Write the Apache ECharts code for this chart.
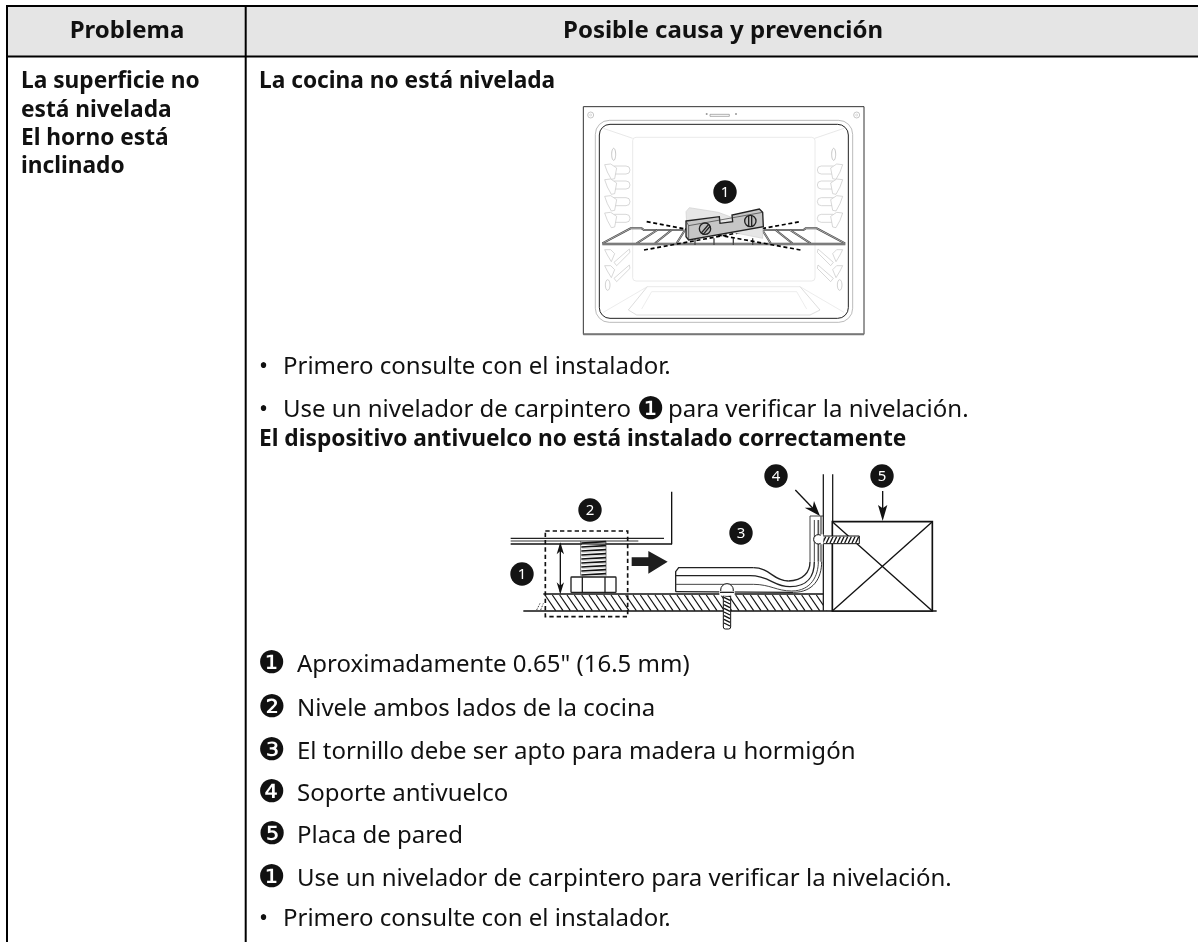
<!DOCTYPE html>
<html>
<head>
<meta charset="utf-8">
<style>html,body{margin:0;padding:0;background:#fff}#main{width:1198px;height:942px}</style>
<script src="https://cdn.jsdelivr.net/npm/echarts@6/dist/echarts.min.js"></script>
</head>
<body>
<div id="main"></div>
<script>
// textos de la tabla
const headers = ['Problema', 'Posible causa y prevención']
const problemLines = ['La superficie no', 'está nivelada', 'El horno está', 'inclinado']
const sectionTitles = ['La cocina no está nivelada', 'El dispositivo antivuelco no está instalado correctamente']
const firstBullet = 'Primero consulte con el instalador.'
const secondBulletParts = ['Use un nivelador de carpintero', '❶', 'para verificar la nivelación.']
const numberGlyphs = ['❶', '❷', '❸', '❹', '❺', '❶']
const numberedNotes = [
  'Aproximadamente 0.65" (16.5 mm)',
  'Nivele ambos lados de la cocina',
  'El tornillo debe ser apto para madera u hormigón',
  'Soporte antivuelco',
  'Placa de pared',
  'Use un nivelador de carpintero para verificar la nivelación.'
]
const lastBullet = 'Primero consulte con el instalador.'
const ovenBadges = ['1']
const bracketBadges = ['1', '2', '3', '4', '5']

const FONT = '"Noto Sans", sans-serif'
const INK = '#111'
const BODY = 24
const BOLD = 22.7
const els = []

function txt (s, x, y, o) {
  o = o || {}
  return {
    type: 'text', x, y, silent: true,
    style: {
      text: s, font: (o.weight || 'normal') + ' ' + (o.size || BODY) + 'px ' + (o.family || FONT),
      fill: o.color || INK, textAlign: o.align || 'left', textVerticalAlign: 'middle'
    }
  }
}
function line (x1, y1, x2, y2, w, c, dash) {
  return { type: 'line', silent: true, shape: { x1, y1, x2, y2 }, style: { stroke: c || '#000', lineWidth: w || 3, lineDash: dash } }
}
function poly (pts, fill, stroke, w) {
  return { type: 'polygon', silent: true, shape: { points: pts }, style: { fill: fill || 'none', stroke: stroke || 'none', lineWidth: w || 3 } }
}
function pline (pts, c, w) {
  return { type: 'polyline', silent: true, shape: { points: pts }, style: { fill: 'none', stroke: c || '#000', lineWidth: w || 3 } }
}
function rrect (x, y, w, h, r, stroke, lw, fill, dash) {
  return { type: 'rect', silent: true, shape: { x, y, width: w, height: h, r: r || 0 }, style: { fill: fill || 'none', stroke: stroke || 'none', lineWidth: lw || 3, lineDash: dash } }
}
function circ (cx, cy, r, fill, stroke, lw) {
  return { type: 'circle', silent: true, shape: { cx, cy, r }, style: { fill: fill || 'none', stroke: stroke || 'none', lineWidth: lw || 2 } }
}
function bez (a, b, c, d, col, w) {
  return { type: 'bezierCurve', silent: true, shape: { x1: a[0], y1: a[1], cpx1: b[0], cpy1: b[1], cpx2: c[0], cpy2: c[1], x2: d[0], y2: d[1] }, style: { fill: 'none', stroke: col || '#000', lineWidth: w || 3 } }
}
function badge (label, cx, cy) {
  return [
    circ(cx, cy, 11.7, '#141414'),
    txt(label, cx, cy + 1, { size: 15, color: '#fff', align: 'center' })
  ]
}

// marco de la tabla
els.push(rrect(7, 6, 1191, 50.5, 0, 'none', 0, '#e5e5e5'))
els.push(line(6, 6, 1198, 6, 2), line(6, 56.5, 1198, 56.5, 2), line(7, 5, 7, 942, 2), line(245.7, 6, 245.7, 942, 2))

// textos
els.push(txt(headers[0], 127, 31, { weight: 'bold', align: 'center' }))
els.push(txt(headers[1], 723, 31, { weight: 'bold', align: 'center' }))
problemLines.forEach((s, i) => els.push(txt(s, 21, 82 + i * 28.3, { weight: 'bold', size: BOLD })))
els.push(txt(sectionTitles[0], 259, 82, { weight: 'bold', size: BOLD }))
els.push(txt(sectionTitles[1], 259, 440, { weight: 'bold', size: BOLD }))
els.push(txt('•', 259, 367.5), txt(firstBullet, 283, 367.5))
els.push(txt('•', 259, 410.5), txt(secondBulletParts[0], 283, 410.5))
els.push(txt(secondBulletParts[1], 637, 410.5, { size: 31, family: '"DejaVu Sans"' }), txt(secondBulletParts[2], 668, 410.5))
const noteY = [665, 709, 752, 794, 836, 879]
numberedNotes.forEach((s, i) => {
  els.push(txt(numberGlyphs[i], 258, noteY[i], { size: 31, family: '"DejaVu Sans"' }))
  els.push(txt(s, 297, noteY[i]))
})
els.push(txt('•', 259, 919), txt(lastBullet, 283, 919))

// dibujo del horno (coordenadas de la ampliación x3)
function ovenSide (mx) {
  const X = (x) => (mx ? 922 - x : x)
  const G = '#c4c4c4'
  const o = []
  o.push(circ(X(62), 60, 9, 'none', '#aaa', 2), circ(X(62), 60, 3, 'none', '#ccc', 2))
  o.push(line(X(100), 100, X(188), 130, 2, '#ddd'), line(X(100), 652, X(232), 575, 2, '#e2e2e2'))
  ;[225, 270, 320, 370].forEach((y) => {
    o.push(rrect(Math.min(X(122), X(180)), y - 12, 58, 24, 12, G, 2, '#fff'))
    o.push(poly([[X(104), y - 16], [X(122), y - 18], [X(140), y - 6], [X(134), y + 26], [X(124), y + 28], [X(112), y + 6]], '#fff', G, 2))
  })
  ;[478, 526].forEach((y) => {
    o.push(poly([[X(132), y + 24], [X(178), y - 16], [X(180), y - 6], [X(140), y + 34]], '#fff', G, 2))
    o.push(poly([[X(104), y - 14], [X(122), y - 14], [X(134), y - 2], [X(124), y + 22], [X(112), y + 2]], '#fff', G, 2))
  })
  o.push({ type: 'ellipse', silent: true, shape: { cx: X(131), cy: 178, rx: 6, ry: 18 }, style: { fill: 'none', stroke: '#aaa', lineWidth: 2 } })
  o.push({ type: 'ellipse', silent: true, shape: { cx: X(113), cy: 570, rx: 7, ry: 16 }, style: { fill: 'none', stroke: '#bbb', lineWidth: 2 } })
  // rejilla
  const rail = [[X(97), 445], [X(182), 400], [X(215), 400], [X(222), 405], [X(340), 405]]
  o.push(pline(rail, '#444', 6), pline(rail, '#ddd', 2))
  ;[[200, 262], [255, 305], [320, 345]].forEach((p) => {
    o.push(line(X(p[0]), 445, X(p[1]), 405, 6, '#444'), line(X(p[0]), 445, X(p[1]), 405, 2, '#ddd'))
  })
  return o
}
const oven = [
  rrect(40, 35, 842, 683, 0, '#333', 3, '#fff'),
  line(40, 718, 882, 718, 6, '#777'),
  rrect(76, 76, 772, 606, 42, '#999', 2),
  rrect(88, 88, 747, 582, 32, '#222', 3),
  rrect(188, 127, 547, 431, 10, '#e0e0e0', 2),
  rrect(420, 58, 58, 6, 0, '#888', 2),
  circ(410, 57, 3, '#999'), circ(498, 57, 3, '#999'),
  pline([[232, 575], [690, 575]], '#e0e0e0', 2),
  pline([[232, 575], [175, 645], [200, 660], [720, 660], [750, 645], [690, 575]], '#ccc', 2),
  pline([[215, 642], [245, 590], [680, 590], [710, 642]], '#e4e4e4', 2)
].concat(ovenSide(false), ovenSide(true))
oven.push(
  line(97, 447, 826, 447, 7, '#555'),
  line(97, 447, 826, 447, 2, '#ccc')
)
;[375, 432, 490, 548].forEach((x) => oven.push(line(x, 430, x, 450, 4, '#444')))
oven.push(
  line(230, 380, 345, 402, 5, '#000', [12, 8]),
  line(222, 465, 690, 380, 5, '#000', [12, 8]),
  line(345, 402, 692, 465, 5, '#000', [12, 8]),
  poly([[348, 350], [358, 338], [445, 352], [488, 368], [578, 395], [578, 430], [350, 385]], '#e6e6e6', '#cfcfcf', 2),
  poly([[348, 378], [448, 365], [450, 385], [488, 380], [486, 360], [568, 342], [578, 352], [580, 395], [356, 435], [348, 425]], '#c6c6c6', '#222', 4),
  line(348, 378, 356, 392, 2, '#333'), line(356, 392, 356, 435, 2, '#333'), line(356, 392, 578, 352, 2, '#333'),
  circ(405, 401, 17, '#bdbdbd', '#222', 4), line(393, 415, 417, 387, 4, '#222'), line(399, 419, 421, 393, 4, '#222'),
  circ(541, 378, 17, '#bdbdbd', '#222', 4), line(536, 362, 536, 394, 4, '#222'), line(545, 362, 545, 394, 4, '#222')
)
els.push({ type: 'group', x: 570, y: 95, scaleX: 1 / 3, scaleY: 1 / 3, silent: true, children: oven })
els.push(...badge(ovenBadges[0], 725, 192))

// dibujo del soporte (origen de la ampliación x3, la parte derecha va desplazada 690)
const R = 690
const br = [
  line(62, 250, 522, 250, 4, '#222'), line(62, 258, 445, 258, 4, '#777'), line(62, 267, 546, 267, 5, '#111'),
  line(545, 110, 545, 268, 4, '#111'),
  line(211, 270, 211, 412, 4, '#111'),
  poly([[211, 262], [200, 298], [211, 288], [222, 298]], '#111'),
  poly([[211, 418], [200, 382], [211, 392], [222, 382]], '#111')
]
// muelle
for (let y = 262; y <= 358; y += 12) {
  br.push(line(274, y + 2, 348, y - 2, 5, '#111'))
  br.push(line(276, y + 7, 346, y + 3, 2, '#bbb'))
}
br.push(line(272, 258, 272, 362, 2, '#333'), line(348, 258, 348, 362, 2, '#333'))
// tuerca
br.push(rrect(243, 366, 135, 46, 2, '#222', 4, '#fff'), line(277, 366, 277, 412, 4, '#222'), line(345, 366, 345, 412, 4, '#222'))
// suelo y trama
for (let x = 165; x < R + 300; x += 22) {
  br.push(line(x, 420, x + 32, 467, 3.5, '#111'))
}
br.push(rrect(R + 312, 417, 30, 50, 0, 'none', 0, '#fff'))
br.push(line(140, 465, 150, 445, 3, '#444', [5, 4]), line(152, 465, 160, 445, 3, '#444', [5, 4]))
br.push(line(160, 417, R + 310, 417, 4, '#111'), line(100, 468, R + 650, 468, 4, '#111'))
// caja de trazos y flecha
br.push(rrect(166, 228, 247, 257, 0, '#111', 5, 'none', [13, 9]))
br.push(poly([[425, 307], [475, 307], [475, 288], [533, 320], [475, 356], [475, 333], [425, 333]], '#1e1e1e'))
// pie de la cocina
br.push(
  pline([[557, 410], [557, 350], [566, 338], [R + 100, 338]], '#222', 4),
  line(557, 362, R + 90, 362, 4, '#222'), line(557, 388, R + 100, 388, 3, '#444'), line(557, 410, R + 220, 412, 4, '#222'),
  bez([R + 100, 338], [R + 150, 338], [R + 160, 378], [R + 205, 378], '#222', 4), bez([R + 205, 378], [R + 250, 378], [R + 270, 350], [R + 270, 320], '#222', 4),
  line(R + 270, 320, R + 270, 183, 3, '#444'),
  bez([R + 90, 362], [R + 150, 362], [R + 160, 395], [R + 210, 395], '#222', 4), bez([R + 210, 395], [R + 265, 395], [R + 283, 360], [R + 283, 320], '#222', 4),
  line(R + 283, 320, R + 283, 195, 3, '#444'),
  bez([R + 100, 388], [R + 150, 388], [R + 170, 408], [R + 215, 408], '#444', 3), bez([R + 215, 408], [R + 275, 408], [R + 295, 360], [R + 295, 320], '#444', 3),
  line(R + 295, 320, R + 295, 195, 5, '#555'),
  bez([R + 220, 412], [R + 280, 412], [R + 305, 370], [R + 305, 320], '#333', 3),
  line(R + 303, 320, R + 303, 183, 4, '#555'),
  line(R + 270, 183, R + 310, 183, 3, '#444')
)
// pared
br.push(line(R + 310, 58, R + 310, 468, 4, '#222'), line(R + 338, 58, R + 338, 468, 4, '#222'))
// placa
br.push(
  rrect(R + 337, 200, 300, 268, 0, '#111', 5, '#fff'),
  line(R + 337, 200, R + 637, 468, 4, '#111'), line(R + 637, 200, R + 337, 468, 4, '#111')
)
// tornillos
br.push(rrect(R + 303, 243, 115, 23, 0, '#111', 3, '#fff'))
for (let x = R + 308; x < R + 415; x += 11) br.push(line(x, 264, x + 9, 245, 4, '#111'))
br.push(circ(R + 295, 253, 14, '#fff', '#111', 3), rrect(R + 302, 238, 8, 30, 0, 'none', 0, '#fff'))
br.push(rrect(700, 412, 22, 110, 6, '#111', 3, '#fff'))
for (let y = 416; y < 515; y += 11) br.push(line(702, y, 720, y + 9, 4, '#111'))
br.push(circ(711, 405, 19, '#fff', '#111', 3), rrect(688, 408, 46, 14, 0, 'none', 0, '#fff'), line(690, 412, 732, 412, 4, '#222'))
// flechas
br.push(
  line(R + 226, 105, R + 290, 172, 4, '#111'),
  poly([[R + 300, 183], [R + 254, 158], [R + 278, 158], [R + 282, 138]], '#111'),
  line(R + 488, 108, R + 488, 185, 4, '#111'),
  poly([[R + 488, 198], [R + 474, 150], [R + 488, 160], [R + 502, 150]], '#111')
)
els.push({ type: 'group', x: 490, y: 455, scaleX: 1 / 3, scaleY: 1 / 3, silent: true, children: br })
const bracketSpots = [[522, 574], [590, 510], [741, 533], [776, 476], [882, 476]]
bracketBadges.forEach((s, i) => els.push(...badge(s, bracketSpots[i][0], bracketSpots[i][1])))

const chart = echarts.init(document.getElementById('main'), null, { renderer: 'canvas' })
chart.setOption({ animation: false, backgroundColor: '#fff', graphic: { elements: els } })
</script>
</body>
</html>
